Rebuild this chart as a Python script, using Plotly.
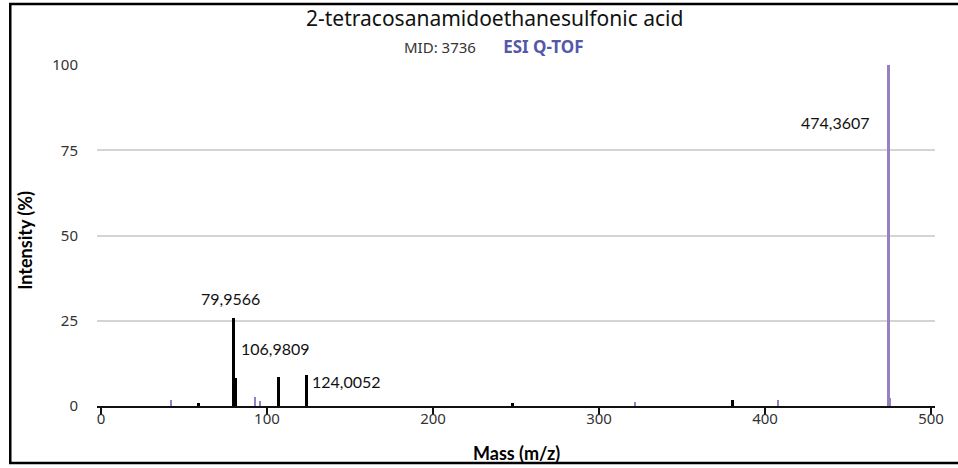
import plotly.graph_objects as go

# Spectrum peaks (m/z, relative intensity %)
black_mz = [59.0, 79.9566, 80.96, 106.9809, 124.0052, 248.0, 380.7]
black_int = [1.0, 25.8, 8.3, 8.6, 9.2, 1.0, 1.7]
purple_mz = [42.0, 92.8, 95.8, 321.7, 408.0, 474.3607, 475.4]
purple_int = [1.7, 2.5, 1.5, 1.1, 1.7, 100.0, 2.4]

x_ticks = [0, 100, 200, 300, 400, 500]
y_ticks = [0, 25, 50, 75, 100]

title_text = "2-tetracosanamidoethanesulfonic acid"
mid_text = "MID: 3736"
instrument_text = "ESI Q-TOF"

BLACK = "#000000"
PURPLE = "#9580c2"


def fmt(v):
    return f"{v:.4f}".replace(".", ",")


fig = go.Figure()
fig.add_trace(go.Bar(x=purple_mz, y=purple_int, width=1.4,
                     marker=dict(color=PURPLE, line=dict(width=0)),
                     hoverinfo="x+y"))
fig.add_trace(go.Bar(x=black_mz, y=black_int, width=1.8,
                     marker=dict(color=BLACK, line=dict(width=0)),
                     hoverinfo="x+y"))

lbl_font = dict(family="Lato, Carlito, sans-serif", size=16, color="#111111")

# peak labels
labelled = {79.9566: ("above", 8), 106.9809: ("above", 17), 124.0052: ("right", 0)}
for mz, inten in zip(black_mz, black_int):
    if mz not in labelled:
        continue
    kind, dy = labelled[mz]
    if kind == "above":
        fig.add_annotation(x=mz, y=inten, text=fmt(mz), showarrow=False,
                           xanchor="center", yanchor="bottom", yshift=dy,
                           xshift=-3, font=lbl_font)
    else:
        fig.add_annotation(x=mz, y=inten, text=fmt(mz), showarrow=False,
                           xanchor="left", yanchor="middle", yshift=-7,
                           xshift=3, font=lbl_font)

top_i = purple_int.index(max(purple_int))
fig.add_annotation(x=purple_mz[top_i], y=purple_int[top_i] * 0.83,
                   text=fmt(purple_mz[top_i]), showarrow=False,
                   xanchor="right", yanchor="middle", xshift=-16,
                   font=lbl_font)

# title and subtitle
fig.add_annotation(xref="paper", yref="paper", x=0.474, y=1.138,
                   text=title_text, showarrow=False, xanchor="center",
                   yanchor="middle", borderpad=0,
                   font=dict(family="Noto Sans, sans-serif", size=21,
                             color="#111111"))
fig.add_annotation(xref="paper", yref="paper", x=0.474, y=1.055,
                   text=(f"{mid_text}" + "&nbsp;" * 7 +
                         f"<b><span style='color:#5557a8;font-size:17px'>{instrument_text}</span></b>"),
                   showarrow=False, xanchor="center", yanchor="middle",
                   borderpad=0,
                   font=dict(family="Noto Sans, sans-serif", size=15,
                             color="#333333"))

# axis titles
ax_font = dict(family="Lato, Carlito, sans-serif", size=18, color="#000000")
fig.add_annotation(xref="paper", yref="paper", x=-0.086, y=0.487,
                   text="<b>Intensity (%)</b>", textangle=-90,
                   showarrow=False, xanchor="center", yanchor="middle",
                   font=ax_font)
fig.add_annotation(xref="paper", yref="paper", x=0.5, y=-0.138,
                   text="<b>Mass (m/z)</b>", showarrow=False,
                   xanchor="center", yanchor="middle", font=ax_font)

# outer frame
fig.add_shape(type="rect", xref="paper", yref="paper",
              x0=-0.1035, x1=1.1, y0=-0.167, y1=1.179,
              line=dict(color="#000000", width=2.5), fillcolor="rgba(0,0,0,0)",
              layer="above")

tick_font = dict(family="Noto Sans, sans-serif", size=15, color="#333333")

fig.update_layout(
    width=958, height=468,
    margin=dict(l=97, r=23, t=65, b=62),
    paper_bgcolor="white", plot_bgcolor="white",
    showlegend=False, barmode="overlay", bargap=0,
    xaxis=dict(range=[-2.4, 502.4], tickvals=x_ticks,
               ticktext=[str(v) for v in x_ticks],
               showgrid=False, zeroline=False,
               showline=True, linecolor="#111111", linewidth=2,
               ticks="outside", ticklen=7, tickwidth=1.5, tickcolor="#111111",
               ticklabelstandoff=-9,
               tickfont=tick_font, fixedrange=True),
    yaxis=dict(range=[0, 100], tickvals=y_ticks,
               ticktext=[str(v) for v in y_ticks],
               showgrid=True, gridcolor="#d4d4d4", gridwidth=1.5,
               zeroline=False, showline=False,
               ticks="outside", ticklen=15, tickcolor="rgba(0,0,0,0)",
               ticklabelstandoff=0,
               tickfont=tick_font, fixedrange=True),
)

fig.write_html("out.html")
